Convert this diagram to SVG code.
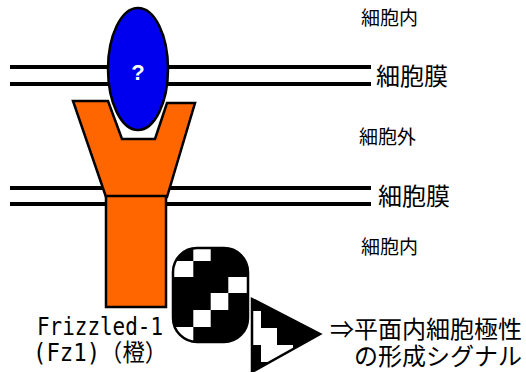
<svg xmlns="http://www.w3.org/2000/svg" width="526" height="372" viewBox="0 0 526 372">
  <style>
    .membrane { stroke: #000; stroke-width: 4; }
    .outline { stroke: #000; stroke-width: 2.5; stroke-linejoin: miter; }
    .orange { fill: #FF6600; }
    .label { font-family: "Noto Sans CJK JP", sans-serif; fill: #000; }
    .mono { font-family: "DejaVu Sans Mono", "Noto Sans CJK JP", monospace; fill: #000; }
  </style>
  <defs>
    <clipPath id="cubeClip">
      <rect x="173" y="248" width="75" height="94" rx="24" ry="24"/>
    </clipPath>
    <clipPath id="triClip">
      <polygon points="252,299 252,372 320,334"/>
    </clipPath>
  </defs>

  <rect width="526" height="372" fill="#fff"/>

  <!-- membranes -->
  <g id="membranes">
    <line class="membrane" x1="10" y1="67" x2="371" y2="67"/>
    <line class="membrane" x1="10" y1="84" x2="371" y2="84"/>
    <line class="membrane" x1="10" y1="188" x2="371" y2="188"/>
    <line class="membrane" x1="10" y1="204" x2="371" y2="204"/>
  </g>

  <!-- Frizzled receptor -->
  <g id="frizzled">
    <polygon class="orange outline" points="73,101 108,101 122,139 155,139 167,103 195,103 167,197 106,197"/>
    <rect class="orange outline" x="106" y="196" width="60" height="111"/>
  </g>

  <!-- unknown ligand -->
  <g id="ligand">
    <ellipse cx="138" cy="69" rx="30" ry="61" fill="#0000EE" stroke="#000" stroke-width="2.5"/>
    <text x="138" y="80" text-anchor="middle" font-family="Liberation Sans, Arial, sans-serif" font-weight="bold" font-size="22" fill="#fff">?</text>
  </g>

  <!-- checkered block -->
  <g id="block">
    <g clip-path="url(#cubeClip)">
      <rect x="173" y="248" width="75" height="94" fill="#000"/>
      <g fill="#fff">
        <rect x="193.3" y="244" width="17.4" height="17"/>
        <rect x="173" y="261" width="20.3" height="16"/>
        <rect x="228.3" y="277" width="20" height="16"/>
        <rect x="210.7" y="293" width="17.6" height="17"/>
        <rect x="193.3" y="310" width="17.4" height="17"/>
        <rect x="173" y="327" width="20.3" height="17"/>
      </g>
    </g>
    <rect x="173" y="248" width="75" height="94" rx="24" ry="24" fill="none" stroke="#000" stroke-width="2.5"/>
  </g>

  <!-- checkered triangle -->
  <g id="signal">
    <g clip-path="url(#triClip)">
      <rect x="250" y="298" width="72" height="76" fill="#000"/>
      <g fill="#fff">
        <rect x="253" y="311" width="8" height="34"/>
        <rect x="261" y="328" width="16" height="34"/>
        <rect x="277" y="345" width="16" height="17"/>
      </g>
    </g>
    <polygon points="252,299 252,372 320,334" fill="none" stroke="#000" stroke-width="2.5" stroke-linejoin="miter"/>
  </g>

  <!-- labels -->
  <g id="labels">
    <text class="label" x="361" y="25" font-size="19">細胞内</text>
    <text class="label" x="376" y="85" font-size="24">細胞膜</text>
    <text class="label" x="359" y="144" font-size="19">細胞外</text>
    <text class="label" x="378" y="205" font-size="24">細胞膜</text>
    <text class="label" x="361" y="254" font-size="19">細胞内</text>
    <text class="mono" x="37" y="335" font-size="24" textLength="126" lengthAdjust="spacingAndGlyphs">Frizzled-1</text>
    <text class="mono" x="33" y="361" font-size="24" textLength="134" lengthAdjust="spacingAndGlyphs">(Fz1)（橙）</text>
    <text class="label" x="522" y="338" font-size="24" text-anchor="end">⇒平面内細胞極性</text>
    <text class="label" x="522" y="365" font-size="24" text-anchor="end">の形成シグナル</text>
  </g>
</svg>
